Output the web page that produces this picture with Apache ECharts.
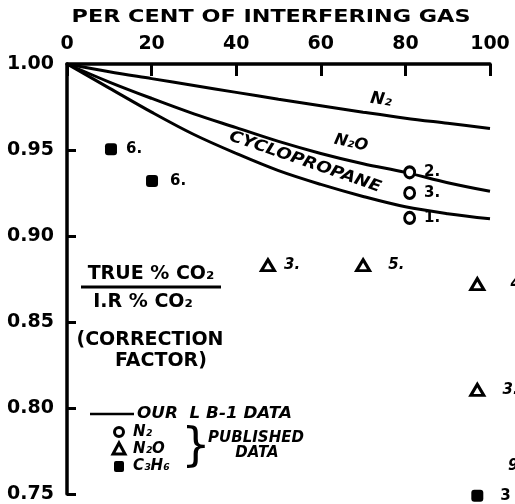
<!DOCTYPE html>
<html><head><meta charset="utf-8">
<script src="https://cdn.jsdelivr.net/npm/echarts@6/dist/echarts.min.js"></script>
<style>html,body{margin:0;padding:0;background:#fff}#c{width:515px;height:504px}</style>
</head><body><div id="c"></div>
<script>
// ---- data ----
const curveX = [0, 10, 20, 30, 40, 50, 60, 70, 80, 90, 100];
const n2Curve = [1.000, 0.9955, 0.9915, 0.9875, 0.9835, 0.9795, 0.9757, 0.972, 0.9685, 0.9655, 0.9625];
const n2oCurve = [1.000, 0.9895, 0.980, 0.971, 0.963, 0.955, 0.948, 0.942, 0.937, 0.931, 0.926];
const cycloCurve = [1.000, 0.986, 0.972, 0.959, 0.948, 0.938, 0.930, 0.923, 0.917, 0.913, 0.910];

const circleX = [81, 81, 81];
const circleY = [0.937, 0.925, 0.9105];
const circleLabels = ['2.', '3.', '1.'];

const triX = [47.5, 70, 97, 97];
const triY = [0.883, 0.883, 0.872, 0.8105];
const triLabels = ['3.', '5.', '4.', '3.'];

const sqX = [10.4, 20.1, 97];
const sqY = [0.9505, 0.932, 0.749];
const sqLabels = ['6.', '6.', '3'];

const xTickValues = [0, 20, 40, 60, 80, 100];
const yTickValues = [0.75, 0.80, 0.85, 0.90, 0.95, 1.00];

// label gaps (styling, kept apart from the data)
const circleGaps = [8, 8, 8];
const triGaps = [8, 17, 25, 17];
const sqGaps = [9, 12, 17];

// ---- chart ----
const FONT = 'DejaVu Sans';
const chart = echarts.init(document.getElementById('c'), null, {renderer: 'canvas'});
const zip = (xs, ys, ls, gaps) => xs.map((x, i) => ({value: [x, ys[i]], label: {formatter: ls[i], distance: gaps[i]}}));
const curve = ys => curveX.map((x, i) => [x, ys[i]]);
const lineSeries = (name, ys) => ({
  name, type: 'line', data: curve(ys), smooth: 0.35, symbol: 'none',
  lineStyle: {color: '#000', width: 3}, z: 3
});
const ptLabel = (italic) => ({show: true, position: 'right', color: '#000',
  fontFamily: FONT, fontWeight: 'bold', fontStyle: italic ? 'italic' : 'normal', fontSize: 15});
const txt = (x, y, text, extra) => ({type: 'text', x, y, ...(extra && extra.el || {}),
  style: Object.assign({text, fontFamily: FONT, fontWeight: 'bold', fontSize: 18, fill: '#000',
    align: 'center', verticalAlign: 'middle'}, extra && extra.style || {})});
const ital = {fontStyle: 'italic', fontSize: 15};
const deg = d => d * Math.PI / 180;

chart.setOption({
  animation: false,
  backgroundColor: '#fff',
  grid: {left: 67, top: 64, right: 25, bottom: 10, containLabel: false},
  xAxis: {
    type: 'value', position: 'top', min: 0, max: 100, interval: 20,
    axisLine: {lineStyle: {color: '#000', width: 3.5}},
    axisTick: {inside: true, length: 12, lineStyle: {color: '#000', width: 3}},
    axisLabel: {color: '#000', fontFamily: FONT, fontWeight: 'bold', fontSize: 19, margin: 10,
      formatter: v => xTickValues.includes(v) ? String(v) : ''},
    splitLine: {show: false}
  },
  yAxis: {
    type: 'value', min: 0.75, max: 1.0, interval: 0.05,
    axisLine: {lineStyle: {color: '#000', width: 3.5}},
    axisTick: {inside: true, length: 9, lineStyle: {color: '#000', width: 3}},
    axisLabel: {color: '#000', fontFamily: FONT, fontWeight: 'bold', fontSize: 19, margin: 13,
      formatter: v => yTickValues.some(t => Math.abs(t - v) < 1e-6) ? v.toFixed(2) : ''},
    splitLine: {show: false}
  },
  series: [
    lineSeries('N2', n2Curve),
    lineSeries('N2O', n2oCurve),
    lineSeries('Cyclopropane', cycloCurve),
    {type: 'scatter', name: 'N2 published', data: zip(circleX, circleY, circleLabels, circleGaps), clip: false,
      symbol: 'circle', symbolSize: [10, 11],
      itemStyle: {color: '#fff', borderColor: '#000', borderWidth: 3, opacity: 1}, label: ptLabel(false), z: 5},
    {type: 'scatter', name: 'N2O published', data: zip(triX, triY, triLabels, triGaps), clip: false,
      symbol: 'triangle', symbolSize: [13, 11],
      itemStyle: {color: '#fff', borderColor: '#000', borderWidth: 3, opacity: 1}, label: ptLabel(true), z: 5},
    {type: 'scatter', name: 'C3H6 published', data: zip(sqX, sqY, sqLabels, sqGaps), clip: false,
      symbol: 'roundRect', symbolSize: 12,
      itemStyle: {color: '#000', opacity: 1}, label: ptLabel(false), z: 5}
  ],
  graphic: [
    // title
    txt(271, 17, 'PER CENT OF INTERFERING GAS', {el: {scaleX: 1.24}, style: {fontSize: 18}}),
    // curve labels
    txt(381, 100, 'N₂', {el: {rotation: deg(-8)}, style: {fontStyle: 'italic', fontSize: 17}}),
    txt(351, 143, 'N₂O', {el: {rotation: deg(-12)}, style: {fontStyle: 'italic', fontSize: 16}}),
    txt(305, 162, 'CYCLOPROPANE', {el: {rotation: deg(-19), scaleX: 1.12}, style: {fontStyle: 'italic', fontSize: 16}}),
    // y-axis description
    txt(151, 274, 'TRUE % CO₂', {style: {fontSize: 19}}),
    {type: 'line', shape: {x1: 81, y1: 287, x2: 221, y2: 287}, style: {stroke: '#000', lineWidth: 3}},
    txt(143, 302, 'I.R % CO₂', {style: {fontSize: 19}}),
    txt(150, 340, '(CORRECTION', {style: {fontSize: 19}}),
    txt(161, 361, 'FACTOR)', {style: {fontSize: 19}}),
    // key
    {type: 'line', shape: {x1: 90, y1: 414, x2: 134, y2: 414}, style: {stroke: '#000', lineWidth: 2.5}},
    txt(137, 414, 'OUR  L B-1 DATA', {el: {scaleX: 1.12}, style: Object.assign({align: 'left'}, ital)}),
    {type: 'circle', shape: {cx: 119, cy: 432, r: 4.5}, style: {fill: '#fff', stroke: '#000', lineWidth: 3}},
    {type: 'polygon', shape: {points: [[119, 443], [125, 454], [113, 454]]}, style: {fill: '#fff', stroke: '#000', lineWidth: 3}},
    {type: 'rect', shape: {x: 114, y: 461, width: 10, height: 11, r: 2}, style: {fill: '#000'}},
    txt(133, 432, 'N₂', {style: Object.assign({align: 'left'}, ital)}),
    txt(133, 449, 'N₂O', {style: Object.assign({align: 'left'}, ital)}),
    txt(133, 466, 'C₃H₆', {style: Object.assign({align: 'left'}, ital)}),
    txt(196, 448, '}', {style: {fontWeight: 'normal', fontSize: 46}}),
    txt(256, 438, 'PUBLISHED', {style: ital}),
    txt(257, 453, 'DATA', {style: ital}),
    txt(508, 466, '9', {style: Object.assign({align: 'left'}, ital)})
  ]
});
</script></body></html>
